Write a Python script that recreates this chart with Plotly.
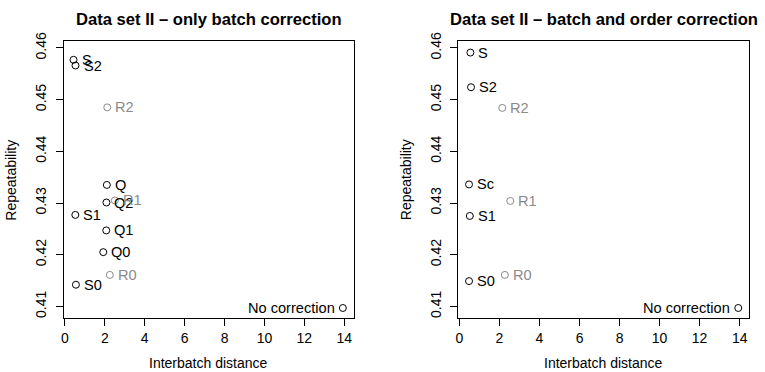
import plotly.graph_objects as go

# Left panel: only batch correction
left_labels = ["S", "S2", "R2", "Q", "Q2", "R1", "S1", "Q1", "Q0", "R0", "S0", "No correction"]
left_x = [0.43, 0.53, 2.12, 2.10, 2.08, 2.50, 0.52, 2.07, 1.92, 2.25, 0.55, 13.93]
left_y = [0.4577, 0.4566, 0.4485, 0.4335, 0.4301, 0.4305, 0.4277, 0.4247, 0.4205, 0.4161, 0.4142, 0.4097]
left_grey = [False, False, True, False, False, True, False, False, False, True, False, False]

# Right panel: batch and order correction
right_labels = ["S", "S2", "R2", "Sc", "R1", "S1", "R0", "S0", "No correction"]
right_x = [0.55, 0.58, 2.14, 0.48, 2.54, 0.52, 2.27, 0.48, 13.93]
right_y = [0.4591, 0.4524, 0.4484, 0.4336, 0.4304, 0.4275, 0.4161, 0.4149, 0.4097]
right_grey = [False, False, True, False, True, False, True, False, False]

titles = ["Data set II – only batch correction", "Data set II – batch and order correction"]
x_ticks = [0, 2, 4, 6, 8, 10, 12, 14]
y_ticks = [0.41, 0.42, 0.43, 0.44, 0.45, 0.46]
y_tick_text = ["0.41", "0.42", "0.43", "0.44", "0.45", "0.46"]

GREY = "#8a8a8a"
BLACK = "#000000"
FONT = "Liberation Sans, Arial, Helvetica, sans-serif"
W, H = 765, 372

fig = go.Figure()

panels = [
    (left_labels, left_x, left_y, left_grey, "x", "y"),
    (right_labels, right_x, right_y, right_grey, "x2", "y2"),
]
for labels, xs, ys, grey, xa, ya in panels:
    cols = [GREY if g else BLACK for g in grey]
    fig.add_trace(go.Scatter(
        x=xs, y=ys, mode="markers", xaxis=xa, yaxis=ya,
        marker=dict(symbol="circle-open", size=7, color=cols, line=dict(width=1)),
        showlegend=False, hoverinfo="skip",
    ))
    for lab, xv, yv, c in zip(labels, xs, ys, cols):
        if lab == "No correction":
            fig.add_annotation(x=xv, y=yv, xref=xa, yref=ya, text=lab, showarrow=False,
                               xanchor="right", yanchor="middle", xshift=-6,
                               font=dict(family=FONT, size=14.6, color=c))
        else:
            fig.add_annotation(x=xv, y=yv, xref=xa, yref=ya, text=lab, showarrow=False,
                               xanchor="left", yanchor="middle", xshift=6,
                               font=dict(family=FONT, size=14.6, color=c))

# domains in pixels
left_dom = (61, 352)
right_dom = (457, 749)
top_px, bot_px = 33, 317
ydom = [1 - bot_px / H, 1 - top_px / H]

axis_common = dict(
    showline=True, mirror=True, linecolor="black", linewidth=1,
    showgrid=False, zeroline=False, ticks="outside", ticklen=7,
    tickcolor="black", tickwidth=1,
    tickfont=dict(family=FONT, size=14, color="black"),
)

fig.update_layout(
    width=W, height=H,
    margin=dict(l=0, r=0, t=0, b=0),
    paper_bgcolor="white", plot_bgcolor="white",
    xaxis=dict(domain=[left_dom[0] / W, left_dom[1] / W], range=[-0.06, 14.47],
               tickvals=x_ticks, anchor="y", **axis_common),
    yaxis=dict(domain=ydom, range=[0.4077, 0.4613], tickvals=y_ticks, ticktext=y_tick_text,
               tickangle=-90, anchor="x", ticklabelstandoff=4, **axis_common),
    xaxis2=dict(domain=[right_dom[0] / W, right_dom[1] / W], range=[-0.06, 14.47],
                tickvals=x_ticks, anchor="y2", **axis_common),
    yaxis2=dict(domain=ydom, range=[0.4077, 0.4613], tickvals=y_ticks, ticktext=y_tick_text,
                tickangle=-90, anchor="x2", ticklabelstandoff=4, **axis_common),
)

for (d0, d1), t, ylab_x in [(left_dom, titles[0], 8), (right_dom, titles[1], 404)]:
    cx = (d0 + d1) / 2 / W
    fig.add_annotation(x=cx, y=1 - 11 / H, xref="paper", yref="paper", text="<b>" + t + "</b>",
                       showarrow=False, xanchor="center", yanchor="middle",
                       font=dict(family=FONT, size=16.6, color="black"))
    fig.add_annotation(x=cx, y=1 - 363 / H, xref="paper", yref="paper", text="Interbatch distance",
                       showarrow=False, xanchor="center", yanchor="middle",
                       font=dict(family=FONT, size=14, color="black"))
    fig.add_annotation(x=ylab_x / W, y=1 - 175 / H, xref="paper", yref="paper", text="Repeatability",
                       showarrow=False, xanchor="center", yanchor="middle", textangle=-90,
                       font=dict(family=FONT, size=14, color="black"))

fig.write_html("out.html", config={"displayModeBar": False},
               post_script="document.body.style.margin='0';document.body.style.overflow='hidden';")
